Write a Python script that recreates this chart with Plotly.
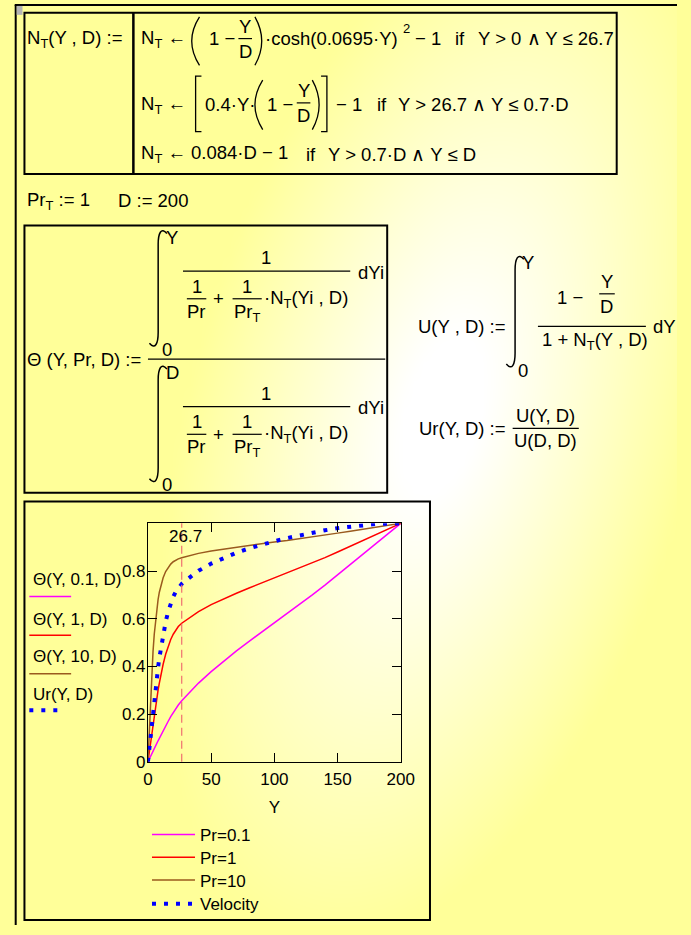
import numpy as np
import plotly.graph_objects as go

W, H = 691, 935
FONT = "Liberation Sans, Arial, sans-serif"
FS = 18.5   # worksheet math text
PS = 17     # plot text

# ---- plotted values ----
y_pos = [0, 0.5, 1, 2, 3, 4, 5, 6, 7, 8, 9, 10, 12, 14, 16, 18, 20, 22, 24, 26.7,
         30, 35, 40, 50, 60, 70, 80, 90, 100, 110, 120, 130, 140, 150, 160, 170,
         180, 190, 200]
theta_pr01 = [0, .006, .011, .022, .033, .044, .055, .066, .077, .088, .099, .110,
              .131, .151, .170, .189, .207, .223, .238, .256, .275, .303, .330,
              .378, .423, .465, .505, .544, .582, .621, .659, .700, .741, .785,
              .828, .871, .914, .957, 1.0]
theta_pr1 = [0, .020, .041, .081, .121, .159, .197, .233, .267, .300, .330, .358,
             .409, .451, .485, .513, .535, .553, .567, .581, .594, .613, .630,
             .659, .684, .707, .729, .750, .770, .790, .811, .832, .856, .880,
             .904, .928, .952, .976, 1.0]
theta_pr10 = [0, .066, .132, .258, .369, .462, .536, .595, .642, .680, .711, .735,
              .772, .798, .816, .829, .839, .846, .851, .856, .861, .868, .874,
              .884, .892, .900, .908, .915, .922, .928, .935, .943, .951, .959,
              .967, .975, .984, .992, 1.0]
velocity = [0, .027, .054, .108, .161, .212, .262, .309, .353, .395, .435, .471,
            .535, .587, .630, .664, .692, .713, .729, .746, .761, .782, .801,
            .831, .856, .877, .895, .911, .925, .938, .950, .961, .971, .980,
            .987, .993, .997, .999, 1.0]
series_names = ["Pr=0.1", "Pr=1", "Pr=10", "Velocity"]
marker_y = 26.7
x_ticks = [0, 50, 100, 150, 200]
y_ticks = [0, 0.2, 0.4, 0.6, 0.8]
y_ticktext = ["0", "0.2", "0.4", "0.6", "0.8"]

MAGENTA, RED, BROWN, BLUE = "#ff00ff", "#ff0000", "#9a5a1e", "#0000ff"
DOTS = "4px,8px"


def px(x):
    return x / W


def py(y):
    return 1 - y / H


shapes, notes = [], []


def text(x, y, s, size=FS, anchor="left", vanchor="middle"):
    notes.append(dict(x=px(x), y=py(y), xref="paper", yref="paper", text=s,
                      showarrow=False, xanchor=anchor, yanchor=vanchor,
                      borderpad=0, font=dict(family=FONT, size=size, color="black")))


def seg(x0, y0, x1, y1, w=1.2, color="black", dash=None):
    ln = dict(color=color, width=w)
    if dash:
        ln["dash"] = dash
    shapes.append(dict(type="line", xref="paper", yref="paper", x0=px(x0), y0=py(y0),
                       x1=px(x1), y1=py(y1), line=ln))


def box(x0, y0, x1, y1, w=2):
    shapes.append(dict(type="rect", xref="paper", yref="paper", x0=px(x0), y0=py(y1),
                       x1=px(x1), y1=py(y0), line=dict(color="black", width=w),
                       fillcolor="rgba(0,0,0,0)"))


def path(cmds, w=1.3):
    parts = []
    for c in cmds:
        k, *n = c
        pts = ["%.5f,%.5f" % (px(n[i]), py(n[i + 1])) for i in range(0, len(n), 2)]
        parts.append(k + " " + " ".join(pts))
    shapes.append(dict(type="path", xref="paper", yref="paper", path=" ".join(parts),
                       line=dict(color="black", width=w), fillcolor="rgba(0,0,0,0)"))


def paren(xt, xe, y0, y1):
    # tall bracket curve: ends at xe, bulging to xt at mid height
    path([("M", xe, y0), ("Q", 2 * xt - xe, (y0 + y1) / 2, xe, y1)])


def square(xv, xs, y0, y1):
    path([("M", xs, y0), ("L", xv, y0), ("L", xv, y1), ("L", xs, y1)])


def integral(xc, yt, yb):
    path([("M", xc + 9, yt + 3), ("C", xc + 3, yt - 4, xc, yt + 3, xc, yt + 14),
          ("L", xc, yb - 14), ("C", xc, yb - 3, xc - 3, yb + 4, xc - 9, yb - 3)], w=1.5)


def frac(xc, ybar, top, bot, half, gap=1):
    text(xc, ybar - gap, top, anchor="center", vanchor="bottom")
    seg(xc - half, ybar, xc + half, ybar)
    text(xc, ybar + gap, bot, anchor="center", vanchor="top")


# ---- page frame ----
seg(10, 5, W, 5, w=2)
seg(11, 5, 11, H, w=2)
shapes.append(dict(type="rect", xref="paper", yref="paper", x0=px(12), x1=px(18),
                   y0=py(15), y1=py(6), line=dict(width=0), fillcolor="#b4b4b4"))

# ---- N_T definition ----
box(20, 13, 629, 176)
seg(132, 13, 132, 176, w=2.5)
text(22, 39, "N<sub>T</sub>(Y , D) :=")

text(139, 39, "N<sub>T</sub> ←")
paren(192, 200, 17, 66)
text(209, 39, "1 −")
frac(247, 39, "Y", "D", 7)
paren(264, 257, 17, 66)
text(266, 39, "·cosh(0.0695·Y)")
text(408, 29, "2", size=13)
text(421, 39, "− 1")
text(462, 39, "if")
text(627, 39, "Y > 0 ∧ Y ≤ 26.7", anchor="right")

text(139, 106, "N<sub>T</sub> ←")
square(196, 202, 77, 133)
text(205, 106, "0.4·Y·")
paren(257, 265, 81, 131)
text(268, 106, "1 −")
frac(307, 104, "Y", "D", 7)
paren(323, 316, 81, 131)
square(331, 325, 77, 133)
text(339, 106, "− 1")
text(381, 106, "if")
text(581, 106, "Y > 26.7 ∧ Y ≤ 0.7·D", anchor="right")

text(139, 156, "N<sub>T</sub> ← 0.084·D − 1")
text(308, 156, "if")
text(485, 156, "Y > 0.7·D ∧ Y ≤ D", anchor="right")

text(22, 203, "Pr<sub>T</sub> := 1")
text(115, 203, "D := 200")

# ---- Theta definition ----
box(20, 228, 393, 498)
text(22, 363, "Θ (Y, Pr, D) :=")
seg(147, 363, 391, 363)
for dy, upper in ((0, "Y"), (137, "D")):
    integral(157.5, 233 + dy, 350 + dy)
    text(165, 240 + dy, upper)
    text(160, 353 + dy, "0")
    text(268, 272 + dy, "1", anchor="center", vanchor="bottom")
    seg(183, 274 + dy, 355, 274 + dy)
    text(362, 275 + dy, "dYi")
    frac(197, 302 + dy, "1", "Pr", 10)
    text(220, 302 + dy, "+", anchor="center")
    frac(249, 302 + dy, "1", "Pr<sub>T</sub>", 15)
    text(265, 302 + dy, "·N<sub>T</sub>(Yi , D)")

# ---- velocity definitions ----
text(424, 330, "U(Y , D) :=")
integral(524.5, 259, 371)
text(531, 265, "Y")
text(526, 375, "0")
text(567, 301, "1 −")
frac(619, 297, "Y", "D", 8)
seg(548, 330, 659, 330)
text(551, 345, "1 + N<sub>T</sub>(Y , D)")
text(665, 330, "dY")

text(425, 433, "Ur(Y, D) :=")
frac(556, 433, "U(Y, D)", "U(D, D)", 34)

# ---- plot region ----
box(20, 507, 437, 930)
labels = [("Θ(Y, 0.1, D)", 586, 603, MAGENTA, None, 68),
          ("Θ(Y, 1, D)", 626, 642, RED, None, 68),
          ("Θ(Y, 10, D)", 664, 681, BROWN, None, 68),
          ("Ur(Y, D)", 702, 718, BLUE, DOTS, 62)]
for s, yt, yl, col, dash, xe in labels:
    text(28, yt, s, size=PS)
    seg(25, yl, xe, yl, w=4 if dash else 1.5, color=col, dash=dash)

shapes.append(dict(type="line", xref="x2", yref="y2 domain", x0=marker_y, x1=marker_y,
                   y0=0, y1=1, line=dict(color="#f07070", width=1.2, dash="8px,5px")))
notes.append(dict(x=marker_y, xref="x2", y=py(542), yref="paper", text=str(marker_y),
                  showarrow=False, xanchor="center", yanchor="middle", xshift=4,
                  font=dict(family=FONT, size=PS, color="black")))

# ---- backdrop shading ----
gx = np.linspace(0, W, 70)
gy = np.linspace(0, H, 95)
GX, GY = np.meshgrid(gx, gy)
ux, uy = -0.268, 0.963
ddx, ddy = GX - 450, GY - 420
along = (ddx * ux + ddy * uy) / 550
perp = (ddx * uy - ddy * ux) / 260
r = np.sqrt(along ** 2 + perp ** 2)
shade = np.clip((r - 0.15) / 0.85, 0, 1)

fig = go.Figure()
fig.add_trace(go.Heatmap(x=gx, y=gy, z=shade, zmin=0, zmax=1, zsmooth="best",
                         colorscale=[[0, "#ffffff"], [1, "#ffff99"]], showscale=False,
                         hoverinfo="skip", xaxis="x", yaxis="y"))

# one legend box per series so each row sits at its own height
legend_rows = [844, 867, 890, 914]
legend_ids = ["legend", "legend2", "legend3", "legend4"]
curves = [(theta_pr01, MAGENTA, None, 1.5), (theta_pr1, RED, None, 1.5),
          (theta_pr10, BROWN, None, 1.5), (velocity, BLUE, DOTS, 4)]
for name, lid, (vals, col, dash, wdt) in zip(series_names, legend_ids, curves):
    ln = dict(color=col, width=wdt)
    if dash:
        ln["dash"] = dash
    fig.add_trace(go.Scatter(x=y_pos, y=vals, mode="lines", name=name, line=ln,
                             xaxis="x2", yaxis="y2", legend=lid))

axis_common = dict(showline=True, mirror="ticks", linecolor="black", linewidth=1,
                   ticks="inside", ticklen=9, tickwidth=1, tickcolor="black",
                   showgrid=False, zeroline=False,
                   tickfont=dict(family=FONT, size=PS, color="black"))

legend_layout = {}
for lid, row in zip(legend_ids, legend_rows):
    legend_layout[lid] = dict(x=px(146), y=py(row), xanchor="left", yanchor="middle",
                              bgcolor="rgba(0,0,0,0)", itemwidth=43,
                              font=dict(family=FONT, size=PS, color="black"))

fig.update_layout(
    width=W, height=H, margin=dict(l=0, r=0, t=0, b=0),
    paper_bgcolor="#ffff99", plot_bgcolor="rgba(0,0,0,0)",
    xaxis=dict(domain=[0, 1], range=[0, W], visible=False, fixedrange=True),
    yaxis=dict(domain=[0, 1], range=[H, 0], visible=False, fixedrange=True),
    xaxis2=dict(domain=[px(147), px(407)], range=[0, 200], anchor="y2",
                tickvals=x_ticks, ticklabelstandoff=2,
                title=dict(text="Y", standoff=12,
                           font=dict(family=FONT, size=PS, color="black")),
                **axis_common),
    yaxis2=dict(domain=[py(770), py(529)], range=[0, 1], anchor="x2",
                tickvals=y_ticks, ticktext=y_ticktext, ticklabelstandoff=-2,
                **axis_common),
    showlegend=True,
    shapes=shapes, annotations=notes,
    **legend_layout,
)

fig.write_html("out.html",
               post_script="document.body.style.margin='0';"
                           "document.body.style.overflow='hidden';")
